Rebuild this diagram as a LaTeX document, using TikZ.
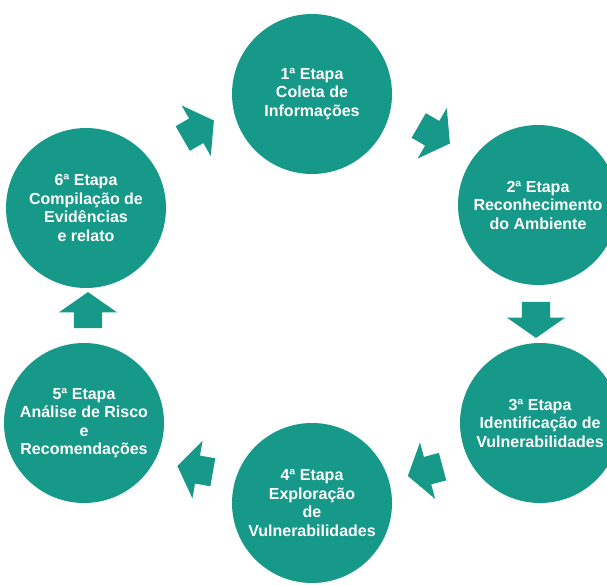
\documentclass[tikz,border=0pt]{standalone}
\usepackage{fontspec}
\setmainfont{Liberation Sans}
\usepackage{tikz}
\usetikzlibrary{shapes.arrows}
\definecolor{etapa}{RGB}{22,153,137}

\begin{document}
\begin{tikzpicture}[x=1pt,y=-1pt,
  etapanode/.style={circle,fill=etapa,text=white,minimum size=160pt,inner sep=0pt,
    align=center,font=\fontsize{16}{18.5}\selectfont\bfseries},
  seta/.style={single arrow,fill=etapa,inner xsep=0pt,inner ysep=14pt,
    minimum height=36pt,single arrow head extend=15pt,single arrow tip angle=110}]
\useasboundingbox (0,0) rectangle (607,584);
\node[etapanode] (e1) at (312,94) {1ª Etapa\\Coleta de\\Informações};
\node[etapanode] (e2) at (538,205) {2ª Etapa\\Reconhecimento\\do Ambiente};
\node[etapanode] (e3) at (540,423) {3ª Etapa\\Identificação de\\Vulnerabilidades};
\node[etapanode] (e4) at (312,503) {4ª Etapa\\Exploração\\de\\Vulnerabilidades};
\node[etapanode] (e5) at (84,423) {5ª Etapa\\Análise de Risco\\e\\Recomendações};
\node[etapanode] (e6) at (86,208) {6ª Etapa\\Compilação de\\Evidências\\e relato};
\node[seta,rotate=-30] (s12) at (430,132) {};
\node[seta,rotate=-90] (s23) at (536,315) {};
\node[seta,rotate=-165] (s34) at (430,470) {};
\node[seta,rotate=170] (s45) at (200,470) {};
\node[seta,rotate=90] (s56) at (88,315) {};
\node[seta,rotate=30] (s61) at (194,132) {};
\end{tikzpicture}
\end{document}
